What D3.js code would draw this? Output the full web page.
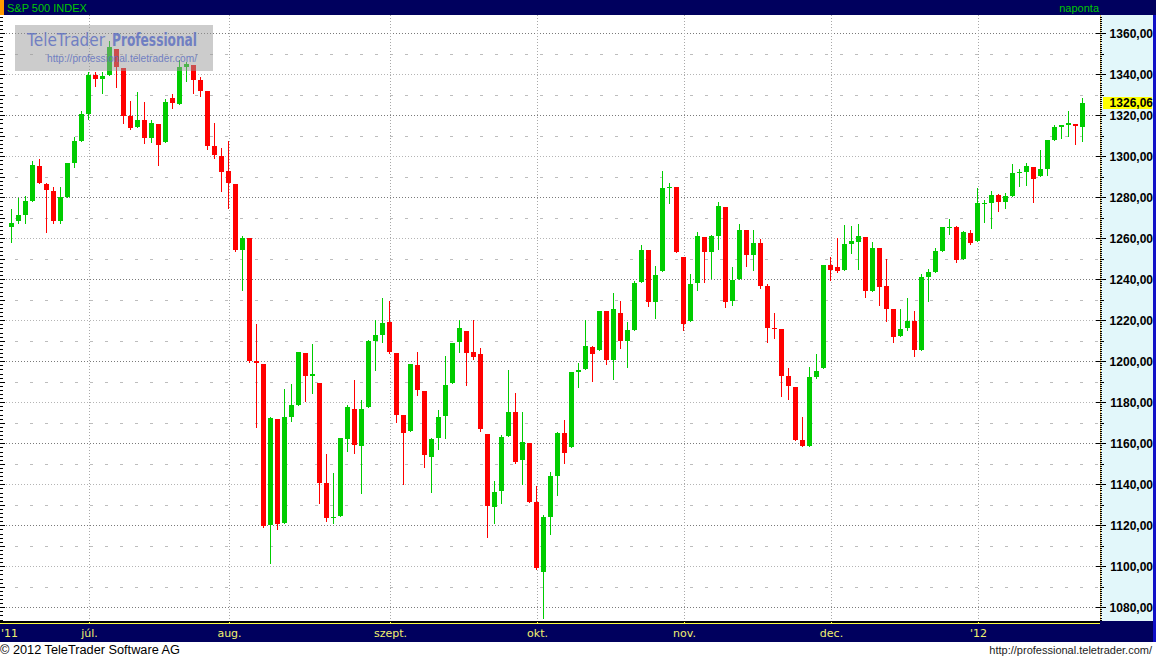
<!DOCTYPE html>
<html>
<head>
<meta charset="utf-8">
<script src="https://cdn.jsdelivr.net/npm/d3@7"></script>
<style>
body { margin: 0; background: #fff; }
svg { display: block; }
text { font-family: "DejaVu Sans", Tahoma, sans-serif; }
</style>
</head>
<body>
<svg></svg>
<script>
// trading days, S&P 500 daily candles
var dates = [
 "2011-06-16","2011-06-17","2011-06-20","2011-06-21","2011-06-22","2011-06-23","2011-06-24","2011-06-27","2011-06-28","2011-06-29","2011-06-30",
 "2011-07-01","2011-07-05","2011-07-06","2011-07-07","2011-07-08","2011-07-11","2011-07-12","2011-07-13","2011-07-14","2011-07-15",
 "2011-07-18","2011-07-19","2011-07-20","2011-07-21","2011-07-22","2011-07-25","2011-07-26","2011-07-27","2011-07-28","2011-07-29",
 "2011-08-01","2011-08-02","2011-08-03","2011-08-04","2011-08-05","2011-08-08","2011-08-09","2011-08-10","2011-08-11","2011-08-12",
 "2011-08-15","2011-08-16","2011-08-17","2011-08-18","2011-08-19","2011-08-22","2011-08-23","2011-08-24","2011-08-25","2011-08-26",
 "2011-08-29","2011-08-30","2011-08-31",
 "2011-09-01","2011-09-02","2011-09-06","2011-09-07","2011-09-08","2011-09-09","2011-09-12","2011-09-13","2011-09-14","2011-09-15",
 "2011-09-16","2011-09-19","2011-09-20","2011-09-21","2011-09-22","2011-09-23","2011-09-26","2011-09-27","2011-09-28","2011-09-29","2011-09-30",
 "2011-10-03","2011-10-04","2011-10-05","2011-10-06","2011-10-07","2011-10-10","2011-10-11","2011-10-12","2011-10-13","2011-10-14",
 "2011-10-17","2011-10-18","2011-10-19","2011-10-20","2011-10-21","2011-10-24","2011-10-25","2011-10-26","2011-10-27","2011-10-28","2011-10-31",
 "2011-11-01","2011-11-02","2011-11-03","2011-11-04","2011-11-07","2011-11-08","2011-11-09","2011-11-10","2011-11-11","2011-11-14",
 "2011-11-15","2011-11-16","2011-11-17","2011-11-18","2011-11-21","2011-11-22","2011-11-23","2011-11-25","2011-11-28","2011-11-29","2011-11-30",
 "2011-12-01","2011-12-02","2011-12-05","2011-12-06","2011-12-07","2011-12-08","2011-12-09","2011-12-12","2011-12-13","2011-12-14",
 "2011-12-15","2011-12-16","2011-12-19","2011-12-20","2011-12-21","2011-12-22","2011-12-23","2011-12-27","2011-12-28","2011-12-29","2011-12-30",
 "2012-01-03","2012-01-04","2012-01-05","2012-01-06","2012-01-09","2012-01-10","2012-01-11","2012-01-12","2012-01-13","2012-01-17",
 "2012-01-18","2012-01-19","2012-01-20","2012-01-23","2012-01-24","2012-01-25"
];

var open = [
 1265.53,1268.58,1271.50,1278.40,1295.48,1286.60,1283.04,1268.44,1280.21,1296.85,1307.64,
 1320.64,1339.59,1337.56,1339.62,1352.39,1343.31,1319.61,1314.45,1317.74,1308.87,
 1315.94,1307.07,1328.66,1325.65,1343.80,1344.32,1337.39,1331.91,1304.84,1300.12,
 1292.59,1286.56,1254.25,1260.23,1200.28,1198.48,1120.23,1171.77,1121.30,1172.87,
 1178.86,1204.22,1192.89,1189.62,1140.47,1123.55,1124.36,1162.16,1176.69,1158.85,
 1177.91,1209.76,1213.00,
 1219.12,1203.90,1173.97,1165.85,1197.98,1185.37,1153.50,1162.59,1173.32,1189.44,
 1209.21,1214.99,1204.50,1203.63,1164.55,1128.82,1136.91,1163.32,1175.39,1151.74,1159.93,
 1131.21,1097.42,1124.03,1144.11,1165.03,1158.15,1194.60,1196.19,1206.96,1205.65,
 1224.47,1200.75,1223.46,1209.92,1215.39,1238.72,1254.19,1229.17,1243.97,1284.39,1284.96,
 1251.00,1219.62,1238.25,1260.82,1253.21,1261.12,1275.18,1229.59,1240.12,1263.85,
 1251.70,1257.81,1236.56,1216.19,1215.62,1192.98,1187.48,1161.41,1158.67,1192.56,1196.72,
 1246.91,1246.03,1244.33,1257.19,1258.14,1260.87,1234.48,1255.05,1236.83,1225.73,
 1212.12,1216.09,1219.74,1205.72,1241.25,1243.72,1254.00,1265.02,1265.38,1249.75,1262.82,
 1258.86,1277.03,1277.30,1280.93,1277.83,1280.77,1292.02,1292.48,1294.82,1290.22,
 1293.65,1308.07,1314.49,1315.29,1315.96,1314.40
];

var high = [
 1274.11,1279.82,1280.42,1297.62,1298.61,1286.79,1284.93,1284.91,1296.80,1309.21,1321.97,
 1341.01,1340.89,1340.94,1356.48,1352.39,1343.31,1327.17,1331.48,1326.68,1317.70,
 1315.94,1328.14,1330.43,1347.00,1346.10,1344.32,1338.51,1331.91,1316.32,1304.16,
 1307.38,1286.56,1261.20,1260.23,1218.11,1198.48,1172.88,1171.77,1186.29,1189.04,
 1204.49,1204.22,1208.47,1189.62,1154.54,1145.49,1162.35,1178.56,1190.68,1181.23,
 1210.28,1220.10,1230.71,
 1229.29,1203.90,1173.97,1198.62,1204.40,1185.37,1162.52,1176.41,1202.38,1209.11,
 1220.06,1214.99,1220.39,1206.30,1164.55,1141.72,1164.19,1195.86,1184.71,1175.31,1159.93,
 1138.99,1125.12,1146.07,1165.55,1171.40,1194.91,1199.24,1220.25,1207.46,1224.61,
 1224.47,1233.10,1229.64,1219.36,1239.03,1256.55,1254.19,1246.28,1292.66,1287.08,1284.96,
 1251.00,1242.48,1263.21,1260.82,1261.70,1277.55,1275.18,1246.22,1266.98,1263.85,
 1264.25,1259.61,1237.73,1223.51,1215.62,1196.81,1187.48,1172.66,1197.35,1203.67,1247.11,
 1251.09,1260.08,1266.73,1266.03,1267.06,1260.87,1258.25,1255.05,1249.86,1225.73,
 1225.60,1231.04,1224.57,1242.82,1245.09,1255.22,1265.42,1269.37,1265.85,1263.54,1264.12,
 1284.62,1278.73,1283.05,1281.84,1281.99,1296.46,1293.80,1296.82,1294.82,1303.00,
 1308.11,1315.49,1315.38,1322.28,1315.96,1328.30
];

var low = [
 1258.07,1267.40,1267.56,1278.40,1286.79,1262.87,1267.54,1267.53,1280.21,1294.70,1307.64,
 1318.18,1334.30,1330.92,1339.62,1333.71,1316.42,1313.33,1314.45,1306.51,1307.04,
 1295.92,1307.07,1323.65,1325.65,1336.95,1331.09,1329.59,1303.49,1299.16,1282.86,
 1274.73,1254.03,1234.56,1199.54,1168.09,1119.28,1101.54,1118.01,1121.30,1170.74,
 1178.86,1180.53,1184.36,1131.03,1122.05,1121.09,1124.36,1156.30,1155.47,1135.91,
 1177.91,1195.77,1209.35,
 1203.85,1170.56,1140.13,1165.85,1183.34,1148.37,1136.07,1157.44,1162.73,1189.44,
 1204.46,1188.36,1201.29,1166.21,1114.22,1121.36,1131.07,1163.32,1150.40,1139.93,1131.34,
 1098.92,1074.77,1115.68,1134.95,1150.26,1158.15,1187.30,1196.19,1190.58,1205.65,
 1198.55,1191.48,1206.31,1197.34,1215.39,1238.72,1226.79,1221.06,1243.97,1277.01,1253.16,
 1215.42,1219.62,1234.81,1238.92,1240.75,1254.99,1226.64,1227.70,1240.12,1246.68,
 1244.34,1235.67,1209.43,1211.36,1183.16,1181.65,1161.79,1158.66,1158.67,1191.80,1196.72,
 1239.73,1243.35,1244.33,1253.03,1244.80,1231.47,1234.48,1227.25,1219.43,1209.47,
 1212.12,1215.20,1202.37,1205.72,1229.51,1243.72,1253.83,1262.30,1248.64,1249.75,1257.46,
 1258.86,1268.10,1265.26,1273.34,1274.55,1280.77,1285.41,1285.77,1277.58,1290.22,
 1290.99,1308.07,1309.17,1309.89,1306.06,1307.65
];

var close = [
 1267.64,1271.50,1278.36,1295.52,1287.14,1283.50,1268.45,1280.10,1296.67,1307.41,1320.64,
 1339.67,1337.88,1339.22,1353.22,1343.80,1319.49,1313.64,1317.72,1308.87,1316.14,
 1305.44,1326.73,1325.84,1343.80,1345.02,1337.43,1331.94,1304.89,1300.67,1292.28,
 1286.94,1254.05,1260.34,1200.07,1199.38,1119.46,1172.53,1120.76,1172.64,1178.81,
 1204.49,1192.76,1193.89,1140.65,1123.53,1123.82,1162.35,1177.60,1159.27,1176.80,
 1210.08,1212.92,1218.89,
 1204.42,1173.97,1165.24,1198.62,1185.90,1154.23,1162.27,1172.87,1188.68,1209.11,
 1216.01,1204.09,1202.09,1166.76,1129.56,1136.43,1162.95,1175.38,1151.06,1160.40,1131.42,
 1099.23,1123.95,1144.03,1164.97,1155.46,1194.89,1195.54,1207.25,1203.66,1224.58,
 1200.86,1225.38,1209.88,1215.39,1238.25,1254.19,1229.05,1242.00,1284.59,1285.09,1253.30,
 1218.28,1237.90,1261.15,1253.23,1261.12,1275.92,1229.10,1239.70,1263.85,1251.78,
 1257.81,1236.91,1216.13,1215.65,1192.98,1188.04,1161.79,1158.67,1192.55,1195.19,1246.96,
 1244.58,1244.28,1257.08,1258.47,1261.01,1234.35,1255.19,1236.47,1225.73,1211.82,
 1215.75,1219.66,1205.35,1241.30,1243.72,1254.00,1265.33,1265.43,1249.64,1263.02,1257.60,
 1277.06,1277.30,1281.06,1277.81,1280.70,1292.08,1292.48,1295.50,1289.09,1293.67,
 1308.04,1314.50,1315.38,1316.00,1314.65,1326.06
];

var monthDates = ["2011-07-01","2011-08-01","2011-09-01","2011-10-03","2011-11-01","2011-12-01","2012-01-03"];
var monthLabels = ["júl.","aug.","szept.","okt.","nov.","dec.","'12"];
var priceTicks = [1080,1100,1120,1140,1160,1180,1200,1220,1240,1260,1280,1300,1320,1340,1360];
var halfTicks = [1070,1090,1110,1130,1150,1170,1190,1210,1230,1250,1270,1290,1310,1330,1350,1370];
var lastPrice = 1326.06;

var W = 1156, H = 659,
    plot = {left: 0, right: 1100, top: 15, bottom: 621},
    navy = "#00005e",
    up = "#00cc00",
    down = "#ff0000",
    labelFont = "'Liberation Sans', Arial, sans-serif",
    fmt = function(v) { return d3.format(".2f")(v).replace(".", ","); };

var svg = d3.select("svg").attr("width", W).attr("height", H);

var x = d3.scalePoint().domain(dates).range([11, 11 + 7 * (dates.length - 1)]);
var y = d3.scaleLinear().domain([1080, 1360]).range([607.3, 33.3]);

var candles = dates.map(function(d, i) {
    return {date: d, open: open[i], high: high[i], low: low[i], close: close[i]};
});

svg.append("rect").attr("x", 0).attr("y", 0).attr("width", W).attr("height", H).attr("fill", "#fff");

var grid = svg.append("g").attr("shape-rendering", "crispEdges");

grid.selectAll(".half").data(halfTicks).enter().append("line")
    .attr("x1", plot.left).attr("x2", plot.right)
    .attr("y1", function(d) { return Math.round(y(d)) + 0.5; })
    .attr("y2", function(d) { return Math.round(y(d)) + 0.5; })
    .attr("stroke", "#bdbdbd")
    .attr("stroke-dasharray", "3,12");

grid.selectAll(".major").data(priceTicks).enter().append("line")
    .attr("x1", plot.left).attr("x2", plot.right)
    .attr("y1", function(d) { return Math.round(y(d)) + 0.5; })
    .attr("y2", function(d) { return Math.round(y(d)) + 0.5; })
    .attr("stroke", function(d) { return (1360 - d) % 40 === 0 ? "#7a7a7a" : "#b4b4b4"; })
    .attr("stroke-dasharray", "1,2");

grid.selectAll(".month").data(monthDates).enter().append("line")
    .attr("x1", function(d) { return x(d) + 1.5; })
    .attr("x2", function(d) { return x(d) + 1.5; })
    .attr("y1", plot.top).attr("y2", plot.bottom)
    .attr("stroke", "#a8a8a8")
    .attr("stroke-dasharray", "1,2");

// left edge ticks
var leftTicks = d3.range(1074, 1369, 2);
grid.selectAll(".lt").data(leftTicks).enter().append("line")
    .attr("x1", 0).attr("x2", function(d) { return d % 10 === 0 ? 5 : 3; })
    .attr("y1", function(d) { return Math.round(y(d)) + 0.5; })
    .attr("y2", function(d) { return Math.round(y(d)) + 0.5; })
    .attr("stroke", "#000");

// candles
var cg = svg.append("g").attr("shape-rendering", "crispEdges");
var candle = cg.selectAll(".candle").data(candles).enter().append("g").attr("class", "candle");

candle.append("line")
    .attr("x1", function(d) { return x(d.date) + 0.5; })
    .attr("x2", function(d) { return x(d.date) + 0.5; })
    .attr("y1", function(d) { return Math.round(y(d.high)); })
    .attr("y2", function(d) { return Math.round(y(d.low)) + 1; })
    .attr("stroke", function(d) { return d.close >= d.open ? up : down; });

candle.append("rect")
    .attr("x", function(d) { return x(d.date) - 2; })
    .attr("width", 5)
    .attr("y", function(d) { return Math.round(y(Math.max(d.open, d.close))); })
    .attr("height", function(d) {
        return Math.max(1, Math.round(y(Math.min(d.open, d.close))) - Math.round(y(Math.max(d.open, d.close))));
    })
    .attr("fill", function(d) { return d.close >= d.open ? up : down; });

// logo overlay
var logo = svg.append("g");
logo.append("rect").attr("x", 15).attr("y", 25).attr("width", 198).attr("height", 46)
    .attr("fill", "#999").attr("opacity", 0.5);
logo.append("text").attr("x", 27).attr("y", 46)
    .attr("font-size", 17).attr("fill", "#5a6cc0").attr("opacity", 0.8)
    .attr("textLength", 78).attr("lengthAdjust", "spacingAndGlyphs")
    .text("TeleTrader");
logo.append("text").attr("x", 112).attr("y", 46)
    .attr("font-size", 17).attr("font-weight", "bold").attr("fill", "#5a6cc0").attr("opacity", 0.8)
    .attr("textLength", 85).attr("lengthAdjust", "spacingAndGlyphs")
    .text("Professional");
logo.append("text").attr("x", 47).attr("y", 62)
    .attr("font-size", 10).attr("fill", "#5a6cc0").attr("opacity", 0.8)
    .style("font-family", labelFont)
    .attr("textLength", 150).attr("lengthAdjust", "spacingAndGlyphs")
    .text("http://professional.teletrader.com/");

// title bar
svg.append("rect").attr("x", 0).attr("y", 0).attr("width", W).attr("height", 15).attr("fill", navy);
svg.append("rect").attr("x", 0).attr("y", 0).attr("width", 4).attr("height", 15).attr("fill", "#ff9a00");
svg.append("text").attr("x", 7).attr("y", 12).attr("font-size", 11).attr("fill", "#00c800")
    .style("font-family", labelFont)
    .text("S&P 500 INDEX");
svg.append("text").attr("x", 1099).attr("y", 12).attr("font-size", 11).attr("fill", "#00c800")
    .attr("text-anchor", "end")
    .style("font-family", labelFont)
    .text("naponta");

// right price panel
var panel = svg.append("g").attr("shape-rendering", "crispEdges");
panel.append("rect").attr("x", 1100).attr("y", 15).attr("width", 53).attr("height", plot.bottom - 15)
    .attr("fill", "#e2f7fa");
panel.append("line").attr("x1", 1100.5).attr("x2", 1100.5).attr("y1", 15).attr("y2", plot.bottom)
    .attr("stroke", "#e8c060");
panel.append("rect").attr("x", 1153).attr("y", 15).attr("width", 3).attr("height", 627).attr("fill", "#1010c8");

var minorTicks = d3.range(1073, 1369, 1);
panel.selectAll(".mt").data(minorTicks).enter().append("line")
    .attr("x1", function(d) { return d % 20 === 0 ? 1096 : 1100; })
    .attr("x2", function(d) { return d % 10 === 0 ? (d % 20 === 0 ? 1106 : 1104) : 1102; })
    .attr("y1", function(d) { return Math.round(y(d)) + 0.5; })
    .attr("y2", function(d) { return Math.round(y(d)) + 0.5; })
    .attr("stroke", "#000");

panel.selectAll(".lbl").data(priceTicks).enter().append("text")
    .attr("x", 1153).attr("y", function(d) { return y(d) + 4.5; })
    .attr("text-anchor", "end").attr("font-size", 12).attr("font-weight", "bold").attr("fill", "#000")
    .style("font-family", labelFont)
    .text(fmt);

panel.append("rect").attr("x", 1103).attr("y", Math.round(y(lastPrice)) - 6).attr("width", 49).attr("height", 12)
    .attr("fill", "#ffff00");
panel.append("text").attr("x", 1153).attr("y", y(lastPrice) + 4.5)
    .attr("text-anchor", "end").attr("font-size", 12).attr("font-weight", "bold").attr("fill", "#000")
    .style("font-family", labelFont)
    .text(fmt(lastPrice));

// bottom axis band
var xa = svg.append("g").attr("shape-rendering", "crispEdges");
xa.append("rect").attr("x", 0).attr("y", plot.bottom).attr("width", 1100).attr("height", 2).attr("fill", "#000");
xa.append("rect").attr("x", 0).attr("y", 623).attr("width", 1100).attr("height", 1).attr("fill", "#ffff40");
xa.append("rect").attr("x", 0).attr("y", 624).attr("width", 1153).attr("height", 18).attr("fill", navy);
xa.append("rect").attr("x", 1100).attr("y", plot.bottom).attr("width", 53).attr("height", 3).attr("fill", navy);

xa.selectAll(".mtick").data(monthDates).enter().append("rect")
    .attr("x", function(d) { return x(d) + 1; })
    .attr("y", 622).attr("width", 1).attr("height", 2)
    .attr("fill", "#ffff40");

xa.selectAll(".mlabel").data(monthDates).enter().append("text")
    .attr("x", function(d) { return x(d) + 1.5; })
    .attr("y", 637)
    .attr("text-anchor", "middle").attr("font-size", 11).attr("fill", "#f0f070")
    .text(function(d, i) { return monthLabels[i]; });

xa.append("text").attr("x", 1).attr("y", 637).attr("font-size", 11).attr("fill", "#f0f070").text("'11");

// footer
svg.append("text").attr("x", 0).attr("y", 654).attr("font-size", 12).attr("fill", "#000")
    .style("font-family", labelFont)
    .attr("textLength", 180).attr("lengthAdjust", "spacingAndGlyphs")
    .text("© 2012 TeleTrader Software AG");
svg.append("text").attr("x", 1152).attr("y", 654).attr("font-size", 11).attr("fill", "#222")
    .attr("text-anchor", "end")
    .style("font-family", labelFont)
    .text("http://professional.teletrader.com/");
</script>
</body>
</html>
